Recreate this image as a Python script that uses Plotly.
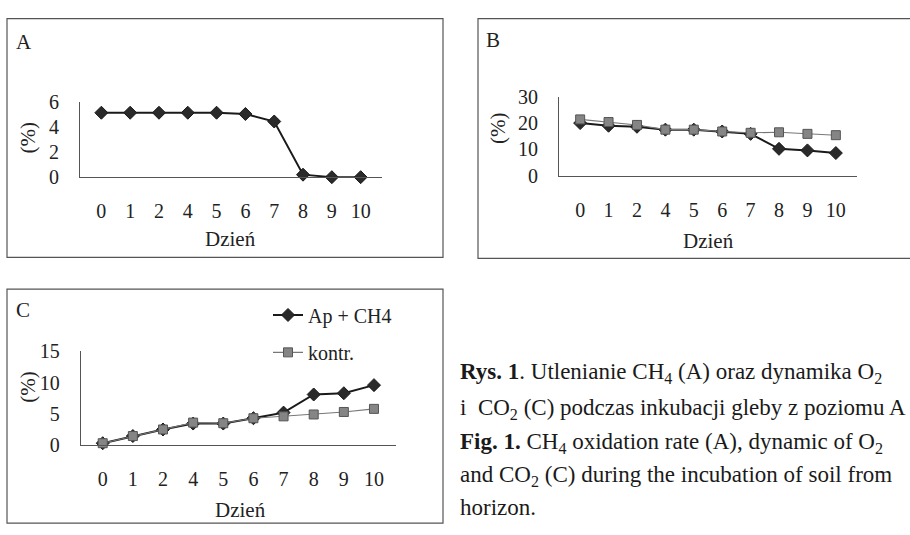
import plotly.graph_objects as go

W, H = 910, 535
FONT = "Liberation Serif, Times New Roman, serif"

days = ["0", "1", "2", "4", "5", "6", "7", "8", "9", "10"]

# Panel A: CH4 (%)
ch4 = [5.15, 5.15, 5.15, 5.15, 5.15, 5.05, 4.45, 0.2, 0.0, 0.0]
ch4_err = [0, 0, 0, 0, 0, 0, 0.15, 0.15, 0, 0]

# Panel B: O2 (%)
o2_ap = [20.0, 19.0, 18.6, 17.5, 17.5, 16.8, 15.9, 10.2, 9.6, 8.6]
o2_kontr = [21.4, 20.4, 19.3, 17.5, 17.5, 16.8, 16.3, 16.5, 15.9, 15.4]

# Panel C: CO2 (%)
co2_ap = [0.3, 1.45, 2.5, 3.45, 3.45, 4.3, 5.2, 8.1, 8.3, 9.6]
co2_kontr = [0.3, 1.45, 2.5, 3.6, 3.5, 4.3, 4.6, 4.9, 5.3, 5.8]

series_names = ["Ap + CH4", "kontr."]
panel_letters = ["A", "B", "C"]
x_title = "Dzień"
y_title = "(%)"

def px(x):
    return x / W

def py(y):
    return 1 - y / H

BLACK = "#1a1a1a"
GRAY_LINE = "#777777"
GRAY_MARK = "#858585"

fig = go.Figure()

def ap_trace(y, xa, ya, show, err=None, legend="legend"):
    kw = {}
    if err is not None:
        kw["error_y"] = dict(type="data", array=err, visible=True, color=BLACK, thickness=1.5, width=4)
    return go.Scatter(x=days, y=y, xaxis=xa, yaxis=ya, mode="lines+markers",
                      name=series_names[0], showlegend=show, legend=legend,
                      line=dict(color=BLACK, width=2),
                      marker=dict(symbol="diamond", size=10, color="#2a2a2a",
                                  line=dict(color=BLACK, width=1)),
                      cliponaxis=False, **kw)

def kontr_trace(y, xa, ya, show, legend="legend2"):
    return go.Scatter(x=days, y=y, xaxis=xa, yaxis=ya, mode="lines+markers",
                      name=series_names[1], showlegend=show, legend=legend,
                      line=dict(color=GRAY_LINE, width=1.1),
                      marker=dict(symbol="square", size=9, color=GRAY_MARK,
                                  line=dict(color="#555555", width=1)),
                      cliponaxis=False)

fig.add_trace(ap_trace(ch4, "x", "y", False, err=ch4_err))
fig.add_trace(ap_trace(o2_ap, "x2", "y2", False))
fig.add_trace(kontr_trace(o2_kontr, "x2", "y2", False))
fig.add_trace(ap_trace(co2_ap, "x3", "y3", True, legend="legend"))
fig.add_trace(kontr_trace(co2_kontr, "x3", "y3", True, legend="legend2"))

tickfont = dict(family=FONT, size=20, color="#222222")

def xaxis(dom, anchor):
    return dict(domain=[px(dom[0]), px(dom[1])], anchor=anchor, type="category",
                showline=True, linecolor="#555555", linewidth=1, showgrid=False,
                zeroline=False, ticks="", tickfont=tickfont, ticklabelstandoff=16,
                fixedrange=True)

def yaxis(dom, anchor, rng, dtick):
    return dict(domain=[py(dom[1]), py(dom[0])], anchor=anchor, range=rng, dtick=dtick,
                showline=True, linecolor="#555555", linewidth=1, showgrid=False,
                zeroline=False, ticks="", tickfont=tickfont, ticklabelstandoff=16,
                fixedrange=True)

fig.update_layout(
    width=W, height=H, margin=dict(l=0, r=0, t=0, b=0),
    paper_bgcolor="white", plot_bgcolor="white",
    font=dict(family=FONT, size=20, color="#222222"),
    xaxis=xaxis((80, 382), "y"),
    yaxis=yaxis((95, 173.3), "x", [0, 6], 2),
    xaxis2=xaxis((559, 857), "y2"),
    yaxis2=yaxis((89.5, 171.7), "x2", [0, 30], 10),
    xaxis3=xaxis((80.7, 396), "y3"),
    yaxis3=yaxis((355, 452.7), "x3", [0, 15], 5),
    legend=dict(x=px(268), y=py(317), xanchor="left", yanchor="middle",
                bgcolor="rgba(0,0,0,0)", font=dict(family=FONT, size=20, color="#222222")),
    legend2=dict(x=px(268), y=py(356), xanchor="left", yanchor="middle",
                 bgcolor="rgba(0,0,0,0)", font=dict(family=FONT, size=20, color="#222222")),
    showlegend=True,
)

# panel frames
frames = [(7, 8, 443, 257), (478, 8, 1000, 258), (7, 290, 443, 534)]
for (x0, y0, x1, y1) in frames:
    fig.add_shape(type="rect", xref="paper", yref="paper",
                  x0=px(x0), y0=py(y1), x1=px(x1), y1=py(y0),
                  line=dict(color="#555555", width=1.2))

ann = []
# panel letters
for letter, (x, y) in zip(panel_letters, [(14, 32), (484, 30), (14, 312)]):
    ann.append(dict(text=letter, x=px(x), y=py(y), xanchor="left", yanchor="middle",
                    font=dict(size=21)))
# axis titles
for (x, y) in [(230, 238), (708, 240), (240, 520)]:
    ann.append(dict(text=x_title, x=px(x), y=py(y), xanchor="center", yanchor="middle",
                    font=dict(size=21)))
for (x, y) in [(28, 133), (498, 123), (28, 393)]:
    ann.append(dict(text=y_title, x=px(x), y=py(y), xanchor="center", yanchor="middle",
                    textangle=-90, font=dict(size=21)))

# caption as visible in the (cropped) reference
caption = [
    "<b>Rys. 1</b>. Utlenianie CH<sub>4</sub> (A) oraz dynamika O<sub>2</sub>",
    "i  CO<sub>2</sub> (C) podczas inkubacji gleby z poziomu A",
    "<b>Fig. 1.</b> CH<sub>4</sub> oxidation rate (A), dynamic of O<sub>2</sub>",
    "and CO<sub>2</sub> (C) during the incubation of soil from",
    "horizon.",
]
for i, (line, y) in enumerate(zip(caption, [378, 415, 451, 485, 518])):
    ann.append(dict(text=line, x=px(458), y=py(y), xanchor="left", yanchor="middle",
                    font=dict(size=23, color="#1a1a1a")))

for a in ann:
    a.update(xref="paper", yref="paper", showarrow=False)
fig.update_layout(annotations=ann)

fig.write_html("out.html")
